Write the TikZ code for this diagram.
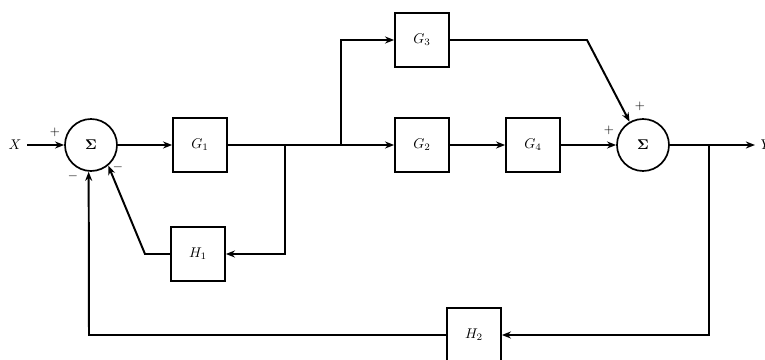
\documentclass[tikz,border=0pt]{standalone}
\usetikzlibrary{arrows.meta}
\tikzset{>={Stealth[length=6.5pt,width=5pt]}}
\begin{document}
\begin{tikzpicture}[line width=1.4pt, block/.style={draw, line width=1.2pt, minimum size=1.35cm, inner sep=0pt}, sumnode/.style={draw, line width=1.2pt, circle, minimum size=1.3cm, inner sep=0pt}, sgn/.style={font=\small, inner sep=0pt}]
\useasboundingbox (0, 0) rectangle (19.125, 9);
\node (X) at (0.375, 5.375) {$X$};
\node[sumnode] (sum1) at (2.275, 5.375) {$\mathbf{\Sigma}$};
\node[block] (G1) at (5, 5.375) {$G_1$};
\node[block] (H1) at (4.95, 2.65) {$H_1$};
\node[block] (G3) at (10.55, 8) {$G_3$};
\node[block] (G2) at (10.55, 5.375) {$G_2$};
\node[block] (G4) at (13.325, 5.375) {$G_4$};
\node[sumnode] (sum2) at (16.075, 5.375) {$\mathbf{\Sigma}$};
\node[block] (H2) at (11.85, 0.625) {$H_2$};
\node[sgn] (s1a) at (1.375, 5.7) {$+$};
\node[sgn] (s1b) at (1.825, 4.6) {$-$};
\node[sgn] (s1c) at (2.95, 4.825) {$-$};
\node[sgn] (s2a) at (16, 6.35) {$+$};
\node[sgn] (s2b) at (15.225, 5.75) {$+$};
\coordinate (b1) at (7.125, 5.375);
\coordinate (b2) at (8.525, 5.375);
\coordinate (b3) at (17.725, 5.375);
\coordinate (h1l) at (3.625, 2.65);
\coordinate (g3r) at (14.675, 8);
\coordinate (h2l) at (2.225, 0.625);
\coordinate (Yend) at (18.875, 5.375);
\draw[->] (X) -- (sum1);
\draw[->] (sum1) -- (G1);
\draw (G1) -- (b2);
\draw[->] (b1) |- (H1);
\draw[->] (H1) -- (h1l) -- (sum1.-50);
\draw[->] (b2) |- (G3);
\draw[->] (b2) -- (G2);
\draw[->] (G2) -- (G4);
\draw[->] (G4) -- (sum2);
\draw[->] (G3) -- (g3r) -- (sum2.120);
\draw[->] (sum2) -- (Yend);
\node[right] (Y) at (Yend) {$Y$};
\draw[->] (b3) |- (H2);
\draw[->] (H2) -- (h2l) -- (sum1.265);
\end{tikzpicture}
\end{document}
